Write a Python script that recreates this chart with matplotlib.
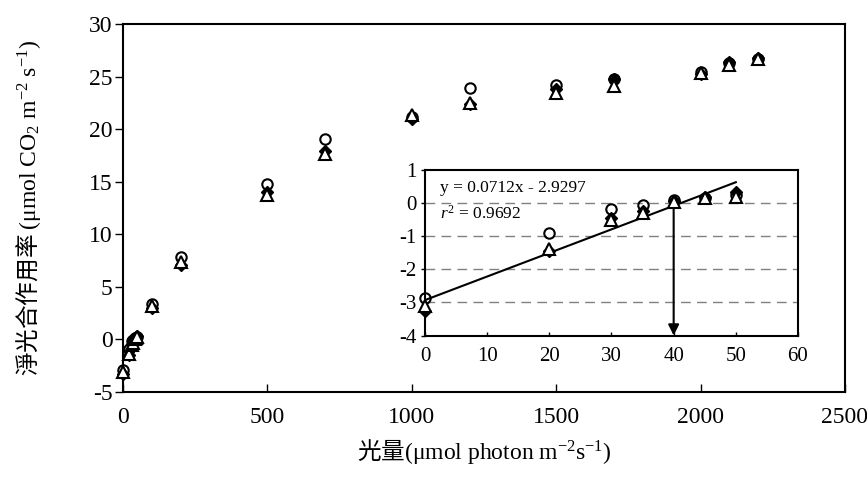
import numpy as np
import matplotlib
matplotlib.use("Agg")
import matplotlib.pyplot as plt

plt.rcParams["font.family"] = ["Liberation Serif", "Noto Sans CJK TC"]
plt.rcParams["axes.unicode_minus"] = False
plt.rcParams["mathtext.fontset"] = "custom"
plt.rcParams["mathtext.rm"] = "Liberation Serif"
plt.rcParams["mathtext.it"] = "Liberation Serif:italic"

# light intensity (umol photon m-2 s-1)
light = [0, 20, 30, 35, 40, 45, 50, 100, 200, 500, 700, 1000, 1200, 1500, 1700, 2000, 2100, 2200]
# net photosynthesis, three series
s_circle = [-2.88, -0.90, -0.19, -0.05, 0.09, 0.15, 0.25, 3.4, 7.8, 14.8, 19.1, 21.2, 23.9, 24.2, 24.8, 25.4, 26.3, 26.7]
s_diamond = [-3.25, -1.45, -0.45, -0.25, 0.05, 0.18, 0.32, 3.0, 7.1, 14.0, 17.9, 21.0, 22.4, 23.8, 24.8, 25.2, 26.4, 26.8]
s_triangle = [-3.10, -1.38, -0.52, -0.30, 0.04, 0.14, 0.19, 3.2, 7.4, 13.7, 17.6, 21.3, 22.5, 23.4, 24.1, 25.3, 26.1, 26.7]

# linear fit at low light
slope = 0.0712
intercept = -2.9297
r2 = 0.9692
low_max = 50
arrow_x = 40

main_xticks = [0, 500, 1000, 1500, 2000, 2500]
main_yticks = [-5, 0, 5, 10, 15, 20, 25, 30]
inset_xticks = [0, 10, 20, 30, 40, 50, 60]
inset_yticks = [1, 0, -1, -2, -3, -4]
grid_levels = [0, -1, -2, -3]

x = np.array(light)
yc = np.array(s_circle)
yd = np.array(s_diamond)
yt = np.array(s_triangle)


def draw_points(ax, m, ms):
    ax.plot(x[m], yc[m], "o", ms=ms, mfc="none", mec="black", mew=1.5, ls="none", clip_on=False, zorder=3)
    ax.plot(x[m], yd[m], "D", ms=ms * 0.8, mfc="black", mec="black", mew=1, ls="none", clip_on=False, zorder=4)
    ax.plot(x[m], yt[m], "^", ms=ms * 1.15, mfc="white", mec="black", mew=1.5, ls="none", clip_on=False, zorder=5)


fig = plt.figure(figsize=(8.67, 4.95), dpi=100)
ax = fig.add_axes([0.1419, 0.2081, 0.9746 - 0.1419, 0.9515 - 0.2081])

draw_points(ax, np.ones(len(x), dtype=bool), 7.5)
ax.set_xlim(0, 2500)
ax.set_ylim(-5, 30)
ax.set_xticks(main_xticks)
ax.set_yticks(main_yticks)
ax.tick_params(axis="x", direction="in", length=6, width=1, pad=11, labelsize=17)
ax.tick_params(axis="y", direction="out", length=5.5, width=1, pad=2, labelsize=17)
for sp in ax.spines.values():
    sp.set_linewidth(1.5)

ax.set_xlabel(r"光量$\mathrm{(μmol\ photon\ m^{-2}s^{-1})}$", family="Noto Sans CJK TC", fontsize=17, labelpad=6)
ax.set_ylabel(r"淨光合作用率 $\mathrm{(μmol\ CO_2\ m^{-2}\ s^{-1})}$", family="Noto Sans CJK TC", fontsize=17, labelpad=33)

# inset
ax_in = fig.add_axes([0.4902, 0.3222, 0.9204 - 0.4902, 0.6566 - 0.3222])
low = x <= low_max
for g in grid_levels:
    ax_in.axhline(g, color="#808080", lw=1, dashes=(7, 4.5), zorder=1)
draw_points(ax_in, low, 7.5)
fx = np.array([x[low].min(), x[low].max()])
ax_in.plot(fx, slope * fx + intercept, color="black", lw=1.5, zorder=2)
ax_in.annotate("", xy=(arrow_x, -4), xytext=(arrow_x, slope * arrow_x + intercept),
               arrowprops=dict(arrowstyle="-|>", color="black", lw=1.5, mutation_scale=16,
                               shrinkA=0, shrinkB=0), zorder=2)
ax_in.text(2.4, 0.45, f"y = {slope}x - {abs(intercept)}", fontsize=12.5, va="center")
ax_in.text(2.4, -0.31, r"$r^2$" + f" = {r2}", fontsize=12.5, va="center")
ax_in.set_xlim(0, 60)
ax_in.set_ylim(-4, 1)
ax_in.set_xticks(inset_xticks)
ax_in.set_yticks(inset_yticks)
ax_in.tick_params(axis="x", direction="in", length=3, width=1, pad=8, labelsize=15)
ax_in.tick_params(axis="y", direction="out", length=3, width=1, pad=3, labelsize=15)
for sp in ax_in.spines.values():
    sp.set_linewidth(1.5)

fig.savefig("out.png", dpi=100)
